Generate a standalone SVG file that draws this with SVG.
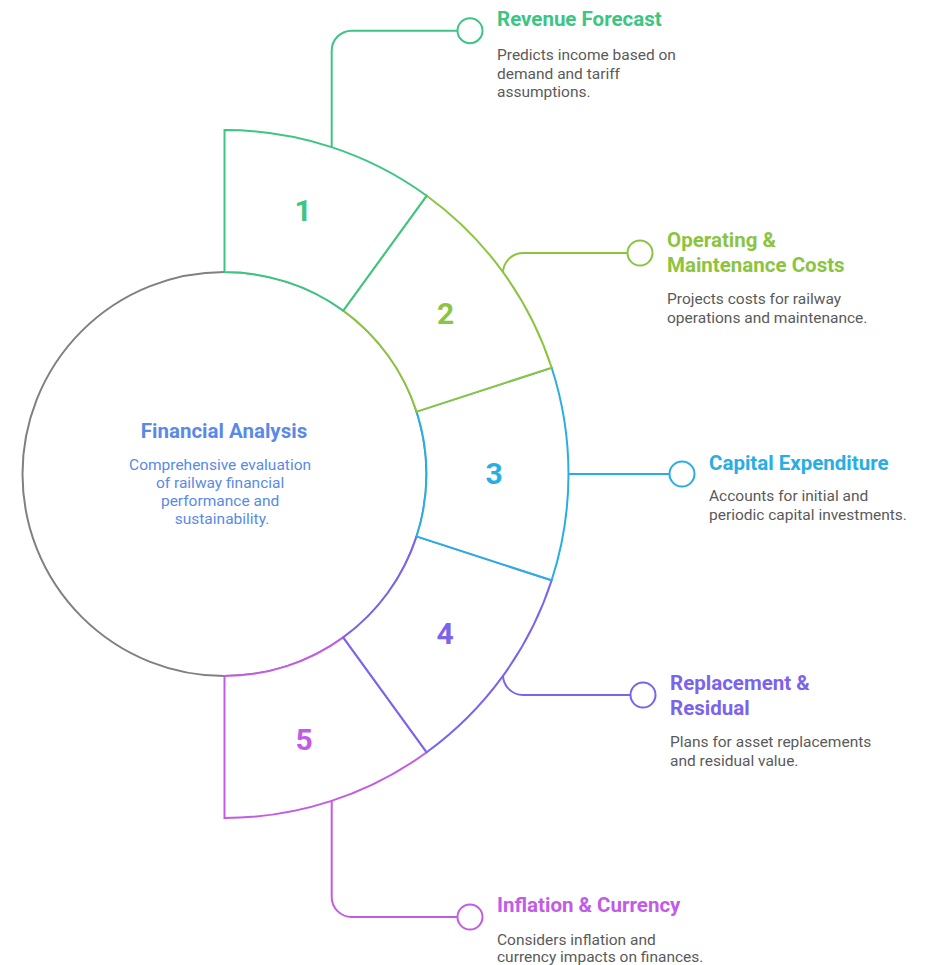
<svg xmlns="http://www.w3.org/2000/svg" width="928" height="965" viewBox="0 0 928 965">
<style>
  text { font-family: Roboto, "Liberation Sans", sans-serif; }
  .title { font-size: 20.5px; font-weight: 700; }
  .desc { font-size: 15.5px; fill: #5a5a5a; }
  .num { font-size: 30px; font-weight: 700; text-anchor: middle; }
  .seg { fill: #ffffff; stroke-width: 2; stroke-linejoin: miter; }
  .conn { fill: none; stroke-width: 2; }
  .dot { fill: #ffffff; stroke-width: 2; }
  .c1 { stroke: #3cc583; } .t1 { fill: #3cc583; }
  .c2 { stroke: #8cc43f; } .t2 { fill: #8cc43f; }
  .c3 { stroke: #29aee3; } .t3 { fill: #29aee3; }
  .c4 { stroke: #7b63ec; } .t4 { fill: #7b63ec; }
  .c5 { stroke: #c25be6; } .t5 { fill: #c25be6; }
</style>
<rect width="928" height="965" fill="#ffffff"/>

<g id="center">
  <circle cx="224.5" cy="474" r="202" fill="#ffffff" stroke="#808080" stroke-width="2"/>
  <text x="224" y="438" class="title" fill="#5a8ae6" text-anchor="middle">Financial Analysis</text>
  <text class="desc" style="fill:#5a8ae6" text-anchor="middle">
    <tspan x="222" y="470">Comprehensive evaluation</tspan>
    <tspan x="222" y="488">of railway financial</tspan>
    <tspan x="222" y="506">performance and</tspan>
    <tspan x="222" y="524">sustainability.</tspan>
  </text>
</g>

<g id="segment5">
  <path class="seg c5" d="M343.23,637.42 L426.70,752.30 A344,344 0 0 1 224.5,818 L224.5,676 A202,202 0 0 0 343.23,637.42 Z"/>
  <text x="304" y="750" class="num t5">5</text>
</g>
<g id="segment4">
  <path class="seg c4" d="M416.61,536.42 L551.66,580.30 A344,344 0 0 1 426.70,752.30 L343.23,637.42 A202,202 0 0 0 416.61,536.42 Z"/>
  <text x="445" y="644" class="num t4">4</text>
</g>
<g id="segment3">
  <path class="seg c3" d="M416.61,411.58 L551.66,367.70 A344,344 0 0 1 551.66,580.30 L416.61,536.42 A202,202 0 0 0 416.61,411.58 Z"/>
  <text x="494" y="484" class="num t3">3</text>
</g>
<g id="segment2">
  <path class="seg c2" d="M343.23,310.58 L426.70,195.70 A344,344 0 0 1 551.66,367.70 L416.61,411.58 A202,202 0 0 0 343.23,310.58 Z"/>
  <text x="445.5" y="324" class="num t2">2</text>
</g>
<g id="segment1">
  <path class="seg c1" d="M224.5,272 L224.5,130 A344,344 0 0 1 426.70,195.70 L343.23,310.58 A202,202 0 0 0 224.5,272 Z"/>
  <text x="303" y="221" class="num t1">1</text>
</g>

<g id="connectors">
  <path class="conn c1" d="M331.7,147 V50.7 A20,20 0 0 1 351.7,30.7 H457.5"/>
  <path class="conn c2" d="M503,273 A20,20 0 0 1 523,253 H627.5"/>
  <path class="conn c3" d="M568.5,474 H669.5"/>
  <path class="conn c4" d="M503,675 A20,20 0 0 0 523,695 H630.5"/>
  <path class="conn c5" d="M331.7,801 V897 A20,20 0 0 0 351.7,917 H457.5"/>
</g>

<g id="label1">
  <circle class="dot c1" cx="470" cy="30.7" r="12.5"/>
  <text x="497" y="26" class="title t1">Revenue Forecast</text>
  <text class="desc"><tspan x="497" y="60">Predicts income based on</tspan><tspan x="497" y="78.5">demand and tariff</tspan><tspan x="497" y="97">assumptions.</tspan></text>
</g>
<g id="label2">
  <circle class="dot c2" cx="640" cy="253" r="12.5"/>
  <text class="title t2"><tspan x="667" y="247">Operating &amp;</tspan><tspan x="667" y="272">Maintenance Costs</tspan></text>
  <text class="desc"><tspan x="667" y="304">Projects costs for railway</tspan><tspan x="667" y="322.5">operations and maintenance.</tspan></text>
</g>
<g id="label3">
  <circle class="dot c3" cx="682" cy="474" r="12.5"/>
  <text x="709" y="469.5" class="title t3">Capital Expenditure</text>
  <text class="desc"><tspan x="709" y="501">Accounts for initial and</tspan><tspan x="709" y="519.5">periodic capital investments.</tspan></text>
</g>
<g id="label4">
  <circle class="dot c4" cx="643" cy="695" r="12.5"/>
  <text class="title t4"><tspan x="670" y="690">Replacement &amp;</tspan><tspan x="670" y="714.5">Residual</tspan></text>
  <text class="desc"><tspan x="670" y="747">Plans for asset replacements</tspan><tspan x="670" y="765.5">and residual value.</tspan></text>
</g>
<g id="label5">
  <circle class="dot c5" cx="470" cy="917" r="12.5"/>
  <text x="497" y="912" class="title t5">Inflation &amp; Currency</text>
  <text class="desc"><tspan x="497" y="945">Considers inflation and</tspan><tspan x="497" y="962">currency impacts on finances.</tspan></text>
</g>
</svg>
